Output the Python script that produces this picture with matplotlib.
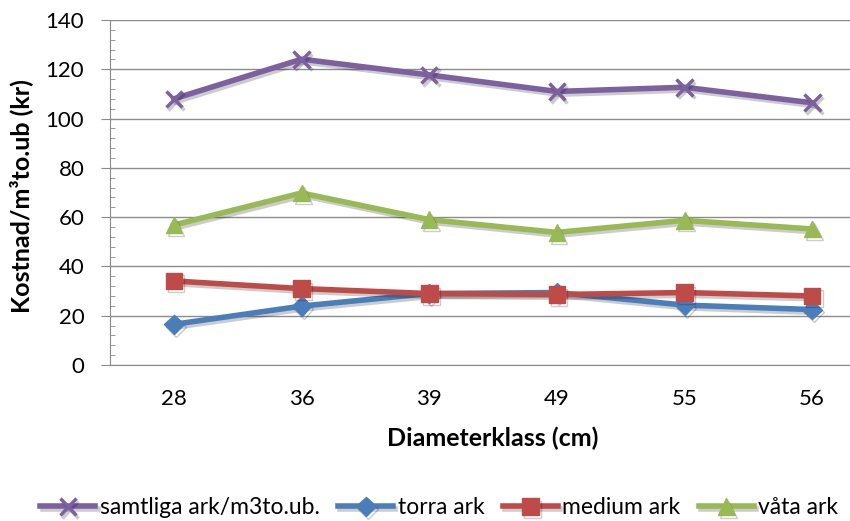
import matplotlib.pyplot as plt
import matplotlib.patheffects as pe
from matplotlib.ticker import MultipleLocator

plt.rcParams['font.family'] = ['Lato', 'DejaVu Sans']

klasser = ["28", "36", "39", "49", "55", "56"]
samtliga = [108.0, 124.1, 117.7, 111.0, 112.7, 106.4]
torra = [16.5, 23.9, 29.0, 29.4, 24.3, 22.5]
medium = [34.1, 31.0, 29.0, 28.6, 29.4, 28.0]
vata = [56.8, 69.8, 59.0, 53.8, 58.7, 55.2]

serier = [
    ("samtliga ark/m3to.ub.", samtliga, "#7D60A0", "x", 12),
    ("torra ark", torra, "#4A7EBB", "D", 10),
    ("medium ark", medium, "#BE4B48", "s", 12),
    ("våta ark", vata, "#98B954", "^", 12),
]

fig = plt.figure(figsize=(8.5, 5.21), dpi=100)
# plottytan fortsätter lite utanför bildens högerkant, som i originalet
ax = fig.add_axes([110/850, 156/521, 766/850, 345/521])

x = list(range(len(klasser)))
skugga = [pe.SimpleLineShadow(offset=(1.5, -2), alpha=0.2), pe.Normal()]
for namn, y, farg, mark, ms in serier:
    ax.plot(x, y, color=farg, lw=4, marker=mark, ms=ms, mew=2.5 if mark == "x" else 1,
            mfc=farg, mec=farg, label=namn, path_effects=skugga, zorder=3)

ax.set_xlim(-0.5, 5.5)
ax.set_ylim(0, 140)
ax.set_xticks(x)
ax.set_xticklabels(klasser)
ax.yaxis.set_major_locator(MultipleLocator(20))
ax.yaxis.set_minor_locator(MultipleLocator(4))
ax.grid(axis='y', which='major', color='#8C8C8C', lw=1)
ax.set_axisbelow(True)
for s in ['top', 'right']:
    ax.spines[s].set_visible(False)
ax.spines['left'].set_color('#8C8C8C')
ax.spines['bottom'].set_color('#8C8C8C')
ax.tick_params(axis='y', which='major', length=6.5, color='#8C8C8C', labelsize=16, pad=12)
ax.tick_params(axis='y', which='minor', direction='in', length=3.6, color='#8C8C8C')
ax.tick_params(axis='x', length=0, labelsize=16, pad=17)

ax.set_xlabel("Diameterklass (cm)", fontsize=18, fontweight='bold')
ax.set_ylabel("Kostnad/m³to.ub (kr)", fontsize=18, fontweight='bold')
ax.xaxis.set_label_coords(0.5, -0.178)
ax.yaxis.set_label_coords(-0.1, 0.49)

fig.legend(loc='center', bbox_to_anchor=(0.517, 0.025), ncol=4, frameon=False,
           fontsize=16.5, handlelength=2.4, columnspacing=0.8, handletextpad=0.2)

fig.savefig("out.png", dpi=100)
